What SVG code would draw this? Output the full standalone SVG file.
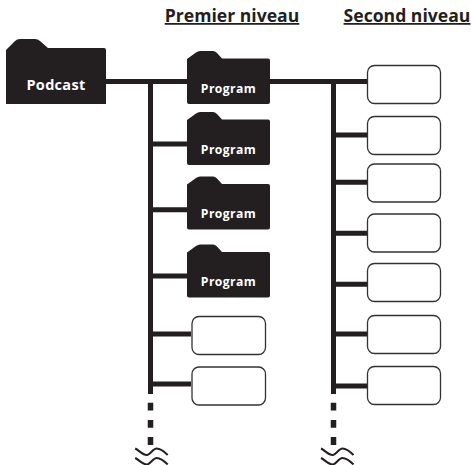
<svg xmlns="http://www.w3.org/2000/svg" width="471" height="465" viewBox="0 0 471 465">
<style>
.f{fill:#231f20}
.b{fill:#fff;stroke:#333132;stroke-width:1.3}
.c{stroke:#231f20;stroke-width:5;fill:none}
.d{stroke:#231f20;stroke-width:5.5;fill:none;stroke-dasharray:7.8 9.4}
.w{stroke:#231f20;stroke-width:2;fill:none}
.t{font-family:"Open Sans","Noto Sans",sans-serif;font-weight:700;fill:#fff;text-anchor:middle}
.p{font-size:12.2px;letter-spacing:.4px}
.h{font-family:"Open Sans","Noto Sans",sans-serif;font-weight:700;font-size:17.6px;fill:#231f20;text-anchor:middle;text-decoration:underline}
</style>
<defs>
<path id="folder" d="M0 8 L9 1.500 Q11 0 13 0 H26 Q28 0 30 2 L35 7.500 H81 Q83 7.500 83 9.500 V51 Q83 53 81 53 H2 Q0 53 0 51 Z"/>
<path id="wave" d="M0 1 C4 3 8 8 12 7.500 C15 7 18 1 21.500 1 C25 1 29 4 32.500 7.500"/>
</defs>
<g id="connectors">
<path class="c" d="M106 81.500H187M270 81.500H367M150.500 81V394M333.500 81V394"/>
<path class="c" d="M150 144H187M150 209.700H187M150 276H187M150 334H191M150 384H191"/>
<path class="c" d="M333 135H367M333 182.300H367M333 233.300H367M333 284.300H367M333 334H367M333 386H367"/>
<path class="d" d="M150.500 402.700V446M333.500 402.700V446"/>
<g id="break-1"><use href="#wave" class="w" x="135.200" y="447.500"/><use href="#wave" class="w" x="135.200" y="457"/></g>
<g id="break-2"><use href="#wave" class="w" x="321" y="447.500"/><use href="#wave" class="w" x="321" y="457"/></g>
</g>
<g id="podcast"><path class="f" d="M6 50 L15 41 Q17 39 20 39 H35 Q38 39 40 41 L48 48 H104 Q106 48 106 50 V104 H6 Z"/><text class="t" x="56" y="90" font-size="14.500" letter-spacing=".3">Podcast</text></g>
<g id="program-1"><use href="#folder" class="f" x="187" y="51"/><text class="t p" x="228.500" y="93">Program</text></g>
<g id="program-2"><use href="#folder" class="f" x="187" y="112"/><text class="t p" x="228.500" y="154">Program</text></g>
<g id="program-3"><use href="#folder" class="f" x="187" y="176.500"/><text class="t p" x="228.500" y="218.300">Program</text></g>
<g id="program-4"><use href="#folder" class="f" x="187" y="244.500"/><text class="t p" x="228.500" y="286">Program</text></g>
<g id="box-1-1"><rect class="b" x="192" y="316.500" width="73.500" height="38" rx="7"/></g>
<g id="box-1-2"><rect class="b" x="192" y="367" width="73.500" height="38" rx="7"/></g>
<g id="box-2-1"><rect class="b" x="367.500" y="65.500" width="73" height="38" rx="7"/></g>
<g id="box-2-2"><rect class="b" x="367.500" y="116.500" width="73" height="38" rx="7"/></g>
<g id="box-2-3"><rect class="b" x="367.500" y="164" width="73" height="38" rx="7"/></g>
<g id="box-2-4"><rect class="b" x="367.500" y="214" width="73" height="38" rx="7"/></g>
<g id="box-2-5"><rect class="b" x="367.500" y="263.500" width="73" height="38" rx="7"/></g>
<g id="box-2-6"><rect class="b" x="367.500" y="315.500" width="73" height="38" rx="7"/></g>
<g id="box-2-7"><rect class="b" x="367.500" y="366.500" width="73" height="38" rx="7"/></g>
<text class="h" x="232" y="22">Premier niveau</text>
<text class="h" x="407" y="22">Second niveau</text>
</svg>
